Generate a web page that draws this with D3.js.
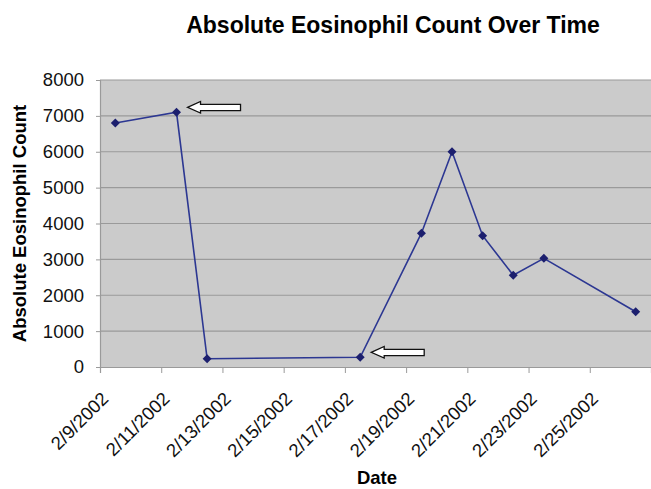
<!DOCTYPE html>
<html>
<head>
<meta charset="utf-8">
<script src="https://cdn.jsdelivr.net/npm/d3@7"></script>
<style>
  html, body { margin: 0; padding: 0; background: #fff; }
  svg { display: block; font-family: "Liberation Sans", Arial, sans-serif; }
</style>
</head>
<body>
<svg id="chart" width="651" height="489"></svg>
<script>
// Sample dates and absolute eosinophil counts
const sampleDates = ["2002-02-09", "2002-02-11", "2002-02-12", "2002-02-17", "2002-02-19",
                     "2002-02-20", "2002-02-21", "2002-02-22", "2002-02-23", "2002-02-26"];
const eosinophilCounts = [6800, 7100, 230, 270, 3730, 6000, 3660, 2560, 3030, 1540];
const yTicks = [0, 1000, 2000, 3000, 4000, 5000, 6000, 7000, 8000];
const xTickDates = ["2002-02-09", "2002-02-11", "2002-02-13", "2002-02-15", "2002-02-17",
                    "2002-02-19", "2002-02-21", "2002-02-23", "2002-02-25"];
const axisStart = "2002-02-09", axisEnd = "2002-02-27";
// Indices of the samples flagged with arrows
const flagged = [1, 3];

const parse = d3.utcParse("%Y-%m-%d");
const halfDay = 12 * 3600 * 1000;
const fmt = d => `${d.getUTCMonth() + 1}/${d.getUTCDate()}/${d.getUTCFullYear()}`;

const svg = d3.select("#chart");
const plot = { left: 100, right: 651, top: 80, bottom: 367 };

const x = d3.scaleUtc().domain([parse(axisStart), parse(axisEnd)]).range([plot.left, plot.right]);
const y = d3.scaleLinear().domain([0, 8000]).range([plot.bottom, plot.top]);

// Each sample sits in the middle of its day
const data = sampleDates.map((d, i) => ({ date: new Date(parse(d).getTime() + halfDay), value: eosinophilCounts[i] }));

// Plot background
svg.append("rect")
  .attr("x", plot.left).attr("y", plot.top)
  .attr("width", plot.right - plot.left).attr("height", plot.bottom - plot.top)
  .attr("fill", "#cbcbcb");

// Horizontal gridlines
svg.append("g").selectAll("line").data(yTicks.slice(1)).join("line")
  .attr("x1", plot.left).attr("x2", plot.right)
  .attr("y1", d => y(d)).attr("y2", d => y(d))
  .attr("stroke", "#9a9a9a").attr("stroke-width", 1.2);

// Y axis
const yAxis = svg.append("g")
  .attr("transform", `translate(${plot.left},0)`)
  .call(d3.axisLeft(y).tickValues(yTicks).tickSize(4).tickPadding(12).tickFormat(d3.format("d")));
yAxis.select(".domain").attr("stroke", "#9a9a9a").attr("stroke-width", 1.2);
yAxis.selectAll(".tick line").attr("stroke", "#9a9a9a");
yAxis.selectAll(".tick text")
  .attr("font-size", 18.5).attr("fill", "#111")
  .attr("font-family", "'Liberation Sans', Arial, sans-serif");

// X axis
const xAxis = svg.append("g")
  .attr("transform", `translate(0,${plot.bottom})`)
  .call(d3.axisBottom(x).tickValues(xTickDates.map(parse)).tickSize(6).tickFormat(fmt));
xAxis.select(".domain").attr("stroke", "#9a9a9a").attr("stroke-width", 1.2);
xAxis.selectAll(".tick line").attr("stroke", "#9a9a9a");
xAxis.selectAll(".tick text")
  .attr("font-size", 18.5).attr("fill", "#111")
  .attr("font-family", "'Liberation Sans', Arial, sans-serif")
  .attr("text-anchor", "end")
  .attr("dy", null)
  .attr("transform", "translate(9,33) rotate(-45)")
  .attr("x", 0).attr("y", 0);

// Series line
svg.append("path")
  .datum(data)
  .attr("fill", "none")
  .attr("stroke", "#2c3792")
  .attr("stroke-width", 1.6)
  .attr("d", d3.line().x(d => x(d.date)).y(d => y(d.value)));

// Diamond markers
svg.append("g").selectAll("path").data(data).join("path")
  .attr("transform", d => `translate(${x(d.date)},${y(d.value)})`)
  .attr("d", "M0,-4.5L4.5,0L0,4.5L-4.5,0Z")
  .attr("fill", "#1c1f6e");

// Block arrows pointing at flagged samples
const arrowPath = "M0,0 L13,-5.8 L13,-3 L53,-3 L53,3.4 L13,3.4 L13,5.8 Z";
svg.append("g").selectAll("path").data(flagged.map(i => data[i])).join("path")
  .attr("transform", d => `translate(${x(d.date) + 11},${y(d.value) - 5})`)
  .attr("d", arrowPath)
  .attr("fill", "#fff")
  .attr("stroke", "#111")
  .attr("stroke-width", 1.3)
  .attr("stroke-linejoin", "miter");

// Titles
svg.append("text")
  .attr("x", 393).attr("y", 33)
  .attr("text-anchor", "middle")
  .attr("font-size", 23).attr("font-weight", "bold").attr("fill", "#000")
  .text("Absolute Eosinophil Count Over Time");

svg.append("text")
  .attr("transform", `translate(26,${(plot.top + plot.bottom) / 2}) rotate(-90)`)
  .attr("text-anchor", "middle")
  .attr("font-size", 18.5).attr("font-weight", "bold").attr("fill", "#000")
  .text("Absolute Eosinophil Count");

svg.append("text")
  .attr("x", 377).attr("y", 484)
  .attr("text-anchor", "middle")
  .attr("font-size", 18.5).attr("font-weight", "bold").attr("fill", "#000")
  .text("Date");
</script>
</body>
</html>
